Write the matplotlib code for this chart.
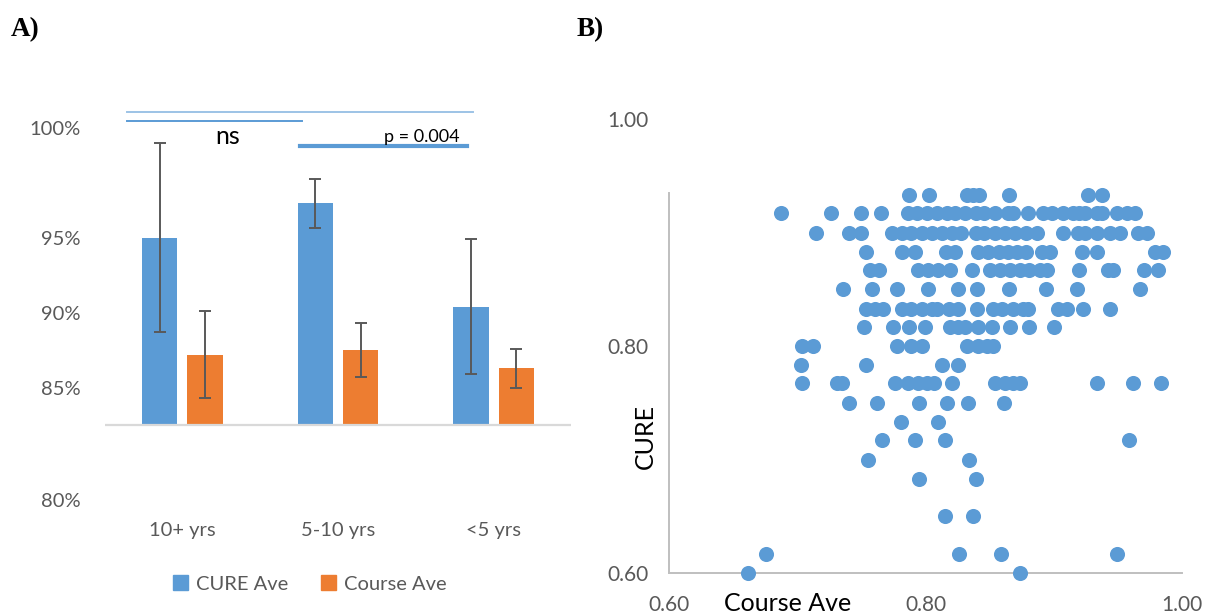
import numpy as np
import matplotlib
matplotlib.use('Agg')
import matplotlib.pyplot as plt
from matplotlib.patches import Patch

plt.rcParams['font.family'] = ['Lato', 'DejaVu Sans']

# ---- panel A data (percent) ----
groups = ['10+ yrs', '5-10 yrs', '<5 yrs']
cure_ave = [95.0, 97.3, 90.4]
cure_err = [6.3, 1.65, 4.5]
course_ave = [87.2, 87.5, 86.3]
course_err = [2.9, 1.8, 1.3]
base = 82.5
ytick_pos = [77.55, 85, 90, 95, 102.35]
ytick_lab = ['80%', '85%', '90%', '95%', '100%']

# ---- panel B data: course average for each CURE level ----
cure_levels = [0.933, 0.917, 0.900, 0.883, 0.867, 0.850, 0.833, 0.817, 0.800, 0.783,
               0.767, 0.750, 0.733, 0.717, 0.700, 0.683, 0.650, 0.617, 0.600]
c_933 = [0.787, 0.803, 0.832, 0.837, 0.842, 0.865, 0.927, 0.938]
c_917 = [0.687, 0.726, 0.750, 0.765, 0.786, 0.793, 0.801, 0.809, 0.817, 0.823, 0.831,
         0.839, 0.846, 0.854, 0.864, 0.868, 0.880, 0.892, 0.899, 0.907, 0.915, 0.920,
         0.924, 0.934, 0.938, 0.949, 0.957, 0.963]
c_900 = [0.715, 0.740, 0.750, 0.774, 0.782, 0.789, 0.797, 0.805, 0.813, 0.821, 0.828,
         0.839, 0.846, 0.854, 0.862, 0.870, 0.878, 0.887, 0.907, 0.919, 0.924, 0.934,
         0.944, 0.952, 0.966, 0.973]
c_883 = [0.754, 0.782, 0.792, 0.816, 0.823, 0.841, 0.849, 0.857, 0.864, 0.871, 0.878,
         0.891, 0.897, 0.922, 0.934, 0.979, 0.985]
c_867 = [0.757, 0.764, 0.794, 0.802, 0.810, 0.819, 0.836, 0.850, 0.858, 0.866, 0.874,
         0.881, 0.889, 0.895, 0.920, 0.942, 0.946, 0.970, 0.981]
c_850 = [0.736, 0.758, 0.778, 0.802, 0.825, 0.840, 0.865, 0.894, 0.918, 0.967]
c_833 = [0.754, 0.761, 0.767, 0.782, 0.789, 0.797, 0.805, 0.809, 0.818, 0.825, 0.840,
         0.853, 0.860, 0.868, 0.876, 0.880, 0.903, 0.910, 0.923, 0.944]
c_817 = [0.752, 0.775, 0.787, 0.800, 0.819, 0.825, 0.831, 0.841, 0.852, 0.866, 0.881, 0.900]
c_800 = [0.704, 0.712, 0.778, 0.789, 0.797, 0.832, 0.841, 0.848, 0.853]
c_783 = [0.703, 0.754, 0.813, 0.825]
c_767 = [0.704, 0.731, 0.735, 0.776, 0.786, 0.794, 0.801, 0.807, 0.821, 0.854, 0.862,
         0.868, 0.874, 0.934, 0.962, 0.984]
c_750 = [0.740, 0.762, 0.795, 0.817, 0.833, 0.861]
c_733 = [0.781, 0.810]
c_717 = [0.766, 0.792, 0.815, 0.959]
c_700 = [0.755, 0.834]
c_683 = [0.795, 0.839]
c_650 = [0.815, 0.837]
c_617 = [0.676, 0.826, 0.859, 0.949]
c_600 = [0.662, 0.874]
course_rows = [c_933, c_917, c_900, c_883, c_867, c_850, c_833, c_817, c_800, c_783,
               c_767, c_750, c_733, c_717, c_700, c_683, c_650, c_617, c_600]

blue = '#5B9BD5'
orange = '#ED7D31'
grey = '#595959'

fig = plt.figure(figsize=(12.06, 6.16), dpi=100)

# ---------------- A ----------------
ax1 = fig.add_axes([0.0867, 0.151, 0.3871, 0.694])
x = np.arange(len(groups))
w = 0.226
off = 0.145
ax1.bar(x - off, np.array(cure_ave) - base, w, bottom=base, color=blue)
ax1.bar(x + off, np.array(course_ave) - base, w, bottom=base, color=orange)
ax1.errorbar(x - off, cure_ave, yerr=cure_err, fmt='none', ecolor=grey,
             elinewidth=1.4, capsize=4, capthick=1.4)
ax1.errorbar(x + off, course_ave, yerr=course_err, fmt='none', ecolor=grey,
             elinewidth=1.4, capsize=4, capthick=1.4)
ax1.axhline(base, color='#d9d9d9', lw=1.6)

ax1.set_xlim(-0.5, 2.5)
ax1.set_ylim(76, 104.5)
ax1.set_yticks(ytick_pos)
ax1.set_yticklabels(ytick_lab)
ax1.tick_params(axis='y', length=0, pad=17, labelsize=14.5, labelcolor=grey)
ax1.set_xticks([])
for s in ax1.spines.values():
    s.set_visible(False)
for i, g in enumerate(groups):
    ax1.text(i, 75.47, g, ha='center', va='center', fontsize=14.5, color=grey, clip_on=False)

# significance brackets
ax1.plot([-0.355, 1.865], [103.4, 103.4], color='#9DC3E6', lw=1.4)
ax1.plot([-0.355, 0.771], [102.8, 102.8], color=blue, lw=1.4)
ax1.plot([0.756, 1.828], [101.15, 101.15], color=blue, lw=3)
ax1.text(0.292, 101.75, 'ns', ha='center', va='center', fontsize=18, color='black')
ax1.text(1.538, 101.4, 'p = 0.004', ha='center', va='baseline', fontsize=13, color='black')

handles = [Patch(color=blue, label='CURE Ave'), Patch(color=orange, label='Course Ave')]
fig.legend(handles=handles, loc='center', bbox_to_anchor=(0.257, 0.052), ncol=2,
           frameon=False, fontsize=14.5, handlelength=0.75, handleheight=0.75,
           handletextpad=0.4, columnspacing=1.6, labelcolor=grey)

# ---------------- B ----------------
ax2 = fig.add_axes([0.5547, 0.0698, 0.4254, 0.737])
for lvl, row in zip(cure_levels, course_rows):
    ax2.scatter(row, [lvl] * len(row), s=118, color=blue, linewidths=0, clip_on=False, zorder=3)
ax2.set_xlim(0.6, 1.0)
ax2.set_ylim(0.6, 1.0)
ax2.set_xticks([0.6, 0.8, 1.0])
ax2.set_xticklabels(['0.60', '0.80', '1.00'])
ax2.set_yticks([0.6, 0.8, 1.0])
ax2.set_yticklabels(['0.60', '0.80', '1.00'])
ax2.tick_params(axis='both', length=0, labelsize=15, labelcolor=grey)
ax2.tick_params(axis='y', pad=15)
ax2.tick_params(axis='x', pad=16)
ax2.spines['top'].set_visible(False)
ax2.spines['right'].set_visible(False)
ax2.spines['left'].set_bounds(0.6, 0.935)
for s in ['left', 'bottom']:
    ax2.spines[s].set_color('#bfbfbf')
    ax2.spines[s].set_linewidth(1.4)

fig.text(0.653, 0.021, 'Course Ave', ha='center', va='center', fontsize=18, color='black')
fig.text(0.535, 0.291, 'CURE', ha='center', va='center', rotation=90, fontsize=18, color='black')

fig.text(0.009, 0.952, 'A)', fontsize=19.5, fontweight='bold', family='Liberation Serif', va='center')
fig.text(0.478, 0.952, 'B)', fontsize=19.5, fontweight='bold', family='Liberation Serif', va='center')

fig.savefig('out.png', dpi=100)
